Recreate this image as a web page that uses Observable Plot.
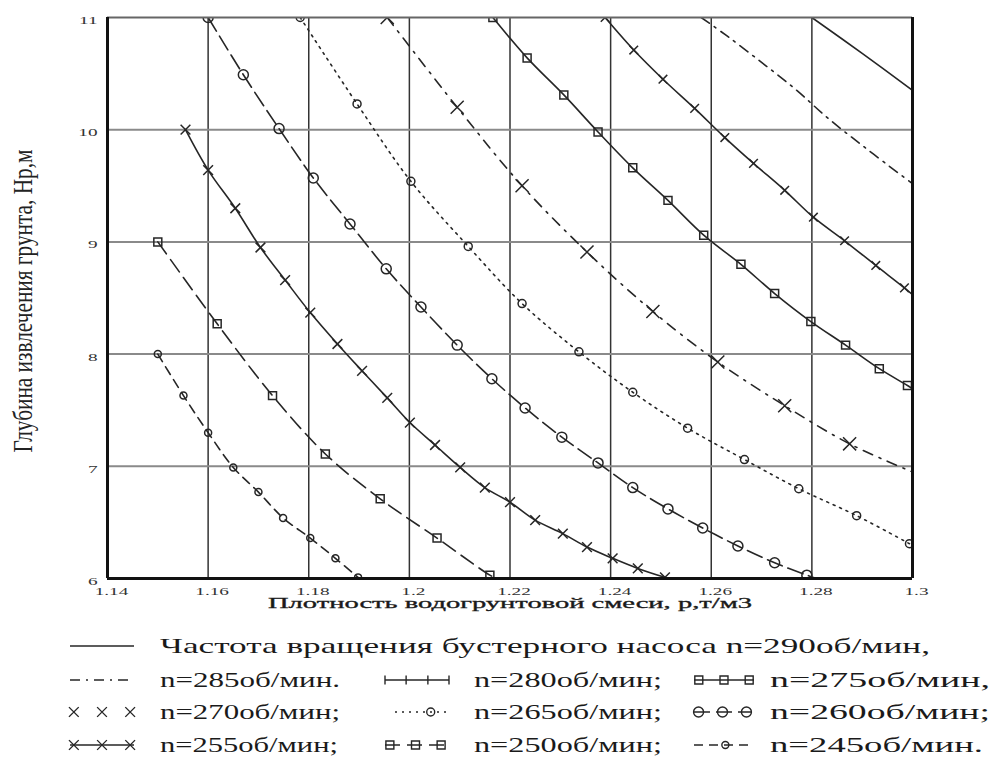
<!DOCTYPE html>
<html><head><meta charset="utf-8">
<script src="https://cdn.jsdelivr.net/npm/d3@7"></script>
<script src="https://cdn.jsdelivr.net/npm/@observablehq/plot@0.6"></script>
<style>
body{margin:0;background:#fff;}
#chart svg{display:block;}
</style></head><body><div id="chart"></div>
<script>
// ---- data ----
const xTicks = [1.14, 1.16, 1.18, 1.2, 1.22, 1.24, 1.26, 1.28, 1.3];
const yTicks = [6, 7, 8, 9, 10, 11];
const xTitle = "Плотность водогрунтовой смеси, р,т/м3";
const yTitle = "Глубина извлечения грунта, Нр,м";
const speeds = [290, 285, 280, 275, 270, 265, 260, 255, 250, 245];
const legendLabels = [
  "Частота вращения бустерного насоса n=290об/мин,",
  "n=285об/мин.", "n=280об/мин;", "n=275об/мин,",
  "n=270об/мин;", "n=265об/мин;", "n=260об/мин;",
  "n=255об/мин;", "n=250об/мин;", "n=245об/мин."
];

const x290 = [1.28, 1.29, 1.3];
const y290 = [11, 10.68, 10.35];
const x285 = [1.258, 1.263, 1.27, 1.277, 1.283, 1.29, 1.297, 1.3];
const y285 = [11, 10.84, 10.6, 10.35, 10.11, 9.86, 9.62, 9.52];
const x280 = [1.2389, 1.2446, 1.2504, 1.2567, 1.2627, 1.2684, 1.2746, 1.2803, 1.2865, 1.2927, 1.2984, 1.3];
const y280 = [11, 10.71, 10.45, 10.19, 9.93, 9.7, 9.46, 9.22, 9.01, 8.79, 8.59, 8.53];
const x275 = [1.2166, 1.2234, 1.2307, 1.2375, 1.2444, 1.2514, 1.2585, 1.2659, 1.2726, 1.2798, 1.2867, 1.2934, 1.299, 1.3];
const y275 = [11, 10.64, 10.31, 9.98, 9.66, 9.37, 9.06, 8.8, 8.54, 8.29, 8.08, 7.87, 7.72, 7.69];
const x270 = [1.1956, 1.2095, 1.2224, 1.2353, 1.2484, 1.2613, 1.2746, 1.2875, 1.3];
const y270 = [11, 10.2, 9.5, 8.91, 8.38, 7.93, 7.54, 7.2, 6.95];
const x265 = [1.1783, 1.1896, 1.2003, 1.2117, 1.2224, 1.2337, 1.2444, 1.2553, 1.2666, 1.2774, 1.2889, 1.2994];
const y265 = [11, 10.23, 9.54, 8.96, 8.45, 8.02, 7.66, 7.34, 7.06, 6.8, 6.56, 6.31];
const x260 = [1.16, 1.167, 1.1741, 1.1809, 1.1882, 1.1954, 1.2023, 1.2095, 1.2164, 1.223, 1.2303, 1.2375, 1.2444, 1.2514, 1.2583, 1.2653, 1.2726, 1.279, 1.281];
const y260 = [11, 10.49, 10.01, 9.57, 9.16, 8.76, 8.42, 8.08, 7.78, 7.52, 7.26, 7.03, 6.81, 6.62, 6.45, 6.29, 6.14, 6.03, 6];
const x255 = [1.1555, 1.16, 1.1654, 1.1704, 1.1753, 1.1803, 1.1857, 1.1906, 1.1956, 1.2001, 1.2051, 1.2101, 1.215, 1.22, 1.225, 1.2305, 1.2353, 1.2404, 1.2454, 1.2508];
const y255 = [10, 9.64, 9.3, 8.95, 8.66, 8.37, 8.09, 7.85, 7.61, 7.39, 7.19, 6.99, 6.81, 6.68, 6.52, 6.4, 6.28, 6.18, 6.09, 6.01];
const x250 = [1.15, 1.1618, 1.1728, 1.1833, 1.1942, 1.2055, 1.216, 1.2174];
const y250 = [9, 8.27, 7.63, 7.11, 6.71, 6.36, 6.03, 6];
const x245 = [1.15, 1.1551, 1.16, 1.165, 1.17, 1.1749, 1.1803, 1.1853, 1.1898];
const y245 = [8, 7.63, 7.3, 6.99, 6.77, 6.54, 6.36, 6.18, 6.01];

const seriesX = {290:x290, 285:x285, 280:x280, 275:x275, 270:x270, 265:x265, 260:x260, 255:x255, 250:x250, 245:x245};
const seriesY = {290:y290, 285:y285, 280:y280, 275:y275, 270:y270, 265:y265, 260:y260, 255:y255, 250:y250, 245:y245};

// ---- styles ----
const ink = "#262626";
const styles = {
  290: {dash: null, symbol: null},
  285: {dash: "10,6,2,6", symbol: null},
  280: {dash: null, symbol: "times", r: 4, legendSymbol: "plus"},
  275: {dash: null, symbol: "square", r: 4.5},
  270: {dash: "10,7,2,7", symbol: "times", r: 6},
  265: {dash: "2,5", symbol: "circle", r: 4},
  260: {dash: "16,6", symbol: "circle", r: 5},
  255: {dash: null, symbol: "times", r: 4.5},
  250: {dash: "15,7", symbol: "square", r: 4.5},
  245: {dash: "9,6", symbol: "circle", r: 3.5}
};

const rows = speeds.map(n => seriesX[n].map((x, i) => ({n, x, y: seriesY[n][i]})));

const lineMarks = rows.map((r, k) => {
  const s = styles[speeds[k]];
  return Plot.line(r, {x: "x", y: "y", stroke: ink, strokeWidth: 1.6, curve: "catmull-rom",
    strokeDasharray: s.dash || undefined, clip: true});
});
const dotMarks = rows.map((r, k) => {
  const s = styles[speeds[k]];
  if (!s.symbol) return null;
  const pts = r.filter(d => d.x < 1.3 && d.y > 6);
  return Plot.dot(pts, {x: "x", y: "y", symbol: s.symbol, r: s.r, stroke: ink, fill: "none", strokeWidth: 1.5, clip: true});
}).filter(Boolean);

const serif = "'Liberation Serif', 'DejaVu Serif', serif";

const plot = Plot.plot({
  width: 998, height: 625,
  marginLeft: 107, marginRight: 86, marginTop: 17, marginBottom: 47,
  x: {domain: [1.14, 1.3]},
  y: {domain: [6, 11]},
  style: {fontFamily: serif, fontSize: "11px", color: "#333", background: "#fff"},
  marks: [
    Plot.ruleX(xTicks.slice(1, -1), {stroke: "#333", strokeWidth: 1.5}),
    Plot.ruleY(yTicks.slice(1, -1), {stroke: "#8a8a8a", strokeWidth: 2}),
    ...lineMarks,
    ...dotMarks,
    Plot.ruleY([11], {stroke: "#666", strokeWidth: 2}),
    Plot.ruleX([1.14], {stroke: "#111", strokeWidth: 3}),
    Plot.ruleX([1.3], {stroke: "#111", strokeWidth: 3}),
    Plot.ruleY([6], {stroke: "#111", strokeWidth: 3}),
    Plot.axisX(xTicks, {tickSize: 0, tickPadding: 9, dx: 4, label: null, tickFormat: d => String(d)}),
    Plot.axisY(yTicks, {tickSize: 0, tickPadding: 10, dy: 3, label: null, tickFormat: d => String(d)})
  ]
});
const holder = document.getElementById("chart");
holder.appendChild(plot);

// horizontally stretched tick labels, as in the reference
d3.select(plot).selectAll("g[aria-label*='tick label'] text").each(function () {
  const w = this.getComputedTextLength();
  this.setAttribute("textLength", w * 1.75);
  this.setAttribute("lengthAdjust", "spacingAndGlyphs");
});

const svg = d3.select(plot);
svg.append("text")
  .attr("x", 510).attr("y", 608)
  .attr("text-anchor", "middle")
  .attr("font-family", serif).attr("font-size", 14).attr("fill", "#1a1a1a")
  .attr("stroke", "#1a1a1a").attr("stroke-width", 0.3)
  .attr("textLength", 484).attr("lengthAdjust", "spacingAndGlyphs")
  .text(xTitle);
svg.append("text")
  .attr("transform", "translate(32,301) rotate(-90)")
  .attr("text-anchor", "middle")
  .attr("font-family", serif).attr("font-size", 27).attr("fill", "#222")
  .attr("textLength", 303).attr("lengthAdjust", "spacingAndGlyphs")
  .text(yTitle);

// ---- legend (below the plot) ----
const legendLayout = [
  {row: 0, sx: [70, 134], tx: 160, tw: 770, marks: []},
  {row: 1, sx: [70, 134], tx: 160, tw: 180, marks: []},
  {row: 1, sx: [385, 449], tx: 474, tw: 188, marks: [0, 0.33, 0.67, 1]},
  {row: 1, sx: [694, 754], tx: 770, tw: 220, marks: [0.08, 0.5, 0.92]},
  {row: 2, sx: [70, 134], tx: 160, tw: 180, marks: [0.06, 0.5, 0.94], noLine: true},
  {row: 2, sx: [395, 446], tx: 474, tw: 188, marks: [0.7]},
  {row: 2, sx: [694, 751], tx: 770, tw: 220, marks: [0.08, 0.5, 0.92]},
  {row: 3, sx: [70, 134], tx: 160, tw: 178, marks: [0.06, 0.5, 0.94]},
  {row: 3, sx: [385, 446], tx: 474, tw: 188, marks: [0.08, 0.5, 0.92]},
  {row: 3, sx: [694, 751], tx: 770, tw: 213, marks: [0.55]}
];
const rowBase = [28, 62, 94, 127];
const symMap = {times: d3.symbolTimes, square: d3.symbolSquare, circle: d3.symbolCircle, plus: d3.symbolPlus};

const leg = d3.create("svg").attr("width", 998).attr("height", 135)
  .attr("font-family", serif).style("display", "block");
speeds.forEach((n, i) => {
  const L = legendLayout[i], s = styles[n];
  const cy = rowBase[L.row] - 7;
  if (!L.noLine) {
    leg.append("line").attr("x1", L.sx[0]).attr("x2", L.sx[1]).attr("y1", cy).attr("y2", cy)
      .attr("stroke", ink).attr("stroke-width", 1.5)
      .attr("stroke-dasharray", s.dash || null);
  }
  if (s.symbol) {
    const sym = s.legendSymbol || s.symbol;
    const r = sym === "times" ? 4.5 : s.r;
    const path = sym === "plus"
      ? "M0,-4.5V4.5"
      : d3.symbol(symMap[sym], Math.PI * r * r)();
    L.marks.forEach(f => {
      const x = L.sx[0] + f * (L.sx[1] - L.sx[0]);
      leg.append("path").attr("d", path).attr("transform", `translate(${x},${cy})`)
        .attr("fill", "none").attr("stroke", ink).attr("stroke-width", 1.4);
    });
  }
  leg.append("text").attr("x", L.tx).attr("y", rowBase[L.row])
    .attr("font-size", 22).attr("fill", "#1a1a1a")
    .attr("textLength", L.tw).attr("lengthAdjust", "spacingAndGlyphs")
    .text(legendLabels[i]);
});
holder.appendChild(leg.node());
</script>
</body></html>
